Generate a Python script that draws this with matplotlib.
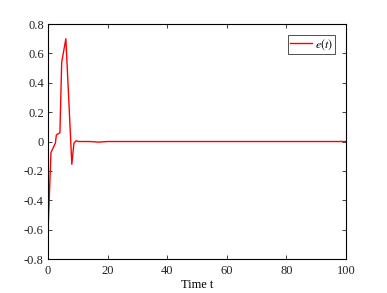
import matplotlib
matplotlib.use("Agg")
import matplotlib.pyplot as plt
import numpy as np

plt.rcParams['font.family'] = ['Liberation Serif', 'DejaVu Serif']
plt.rcParams['mathtext.fontset'] = 'stix'

t = [0, 1.0, 2.5, 2.8, 3.7, 4.0, 4.6, 6.0, 8.0, 8.7, 9.4, 10.3, 14, 17, 20, 100]
e = [-0.62, -0.075, -0.01, 0.044, 0.056, 0.06, 0.54, 0.70, -0.155, -0.012, 0.005, 0.0, 0.0, -0.004, 0.0, 0.0]

xticks = [0, 20, 40, 60, 80, 100]
yticks = [-0.8, -0.6, -0.4, -0.2, 0, 0.2, 0.4, 0.6, 0.8]
yticklabels = ['-0.8', '-0.6', '-0.4', '-0.2', '0', '0.2', '0.4', '0.6', '0.8']

fig = plt.figure(figsize=(3.87, 2.93), dpi=100)
ax = fig.add_axes([0.124, 0.116, 0.77, 0.802])
ax.plot(t, e, color='red', linewidth=1.0, label='$e(t)$')
ax.set_xlim(0, 100)
ax.set_ylim(-0.8, 0.8)
ax.set_xticks(xticks)
ax.set_xticklabels([str(v) for v in xticks])
ax.set_yticks(yticks)
ax.set_yticklabels(yticklabels)
ax.tick_params(direction='in', top=True, right=True, length=3, width=0.6,
               labelsize=9, colors='#222222')
ax.tick_params(axis='x', pad=4)
ax.tick_params(axis='y', pad=3)
for s in ax.spines.values():
    s.set_linewidth(0.8)
ax.set_xlabel('Time t', fontsize=9, labelpad=2)
leg = ax.legend(loc='upper right', fontsize=8.5, frameon=True, fancybox=False,
                edgecolor='black', handlelength=1.8, borderpad=0.2,
                borderaxespad=0.9, handletextpad=0.3)
leg.get_frame().set_linewidth(0.6)
fig.savefig('out.png', dpi=100)
